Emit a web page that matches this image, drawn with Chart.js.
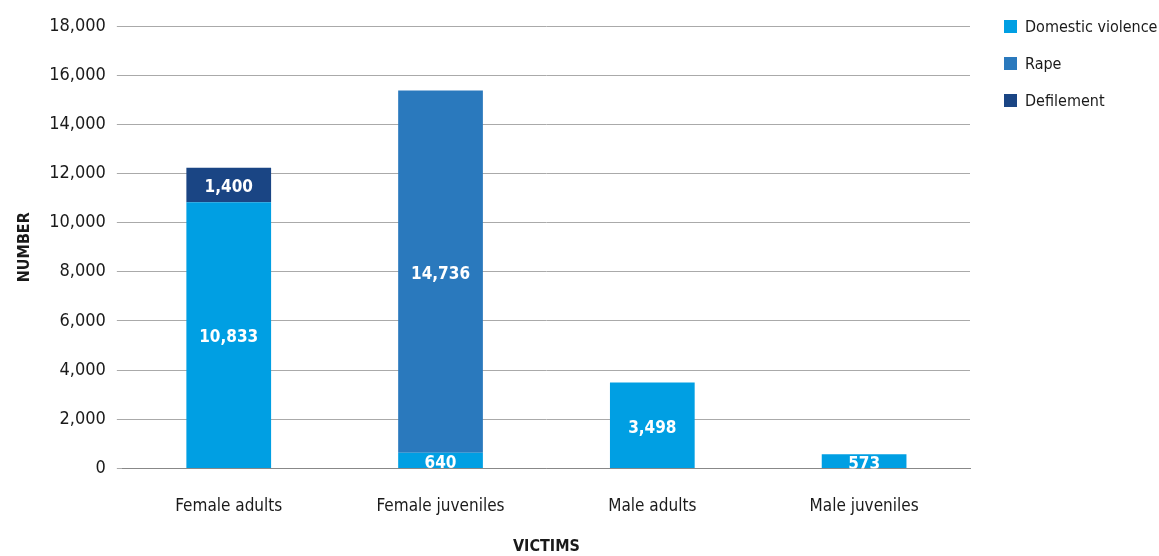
<!DOCTYPE html>
<html>
<head>
<meta charset="utf-8">
<script src="https://cdn.jsdelivr.net/npm/chart.js@4"></script>
<style>
  body { margin: 0; background: #fff; }
  #wrap { position: relative; width: 1159px; height: 556px; }
  #legend { position: absolute; left: 1004px; top: 17px; font-family: "Liberation Sans Narrow", "DejaVu Sans Condensed", sans-serif; font-size: 16px; color: #1a1a1a; }
  #legend div { height: 20px; line-height: 20px; margin-bottom: 17px; white-space: nowrap; }
  #legend span { display: inline-block; width: 13px; height: 13px; margin-right: 8px; vertical-align: -1px; }
</style>
</head>
<body>
<div id="wrap">
  <canvas id="chart" width="1159" height="556"></canvas>
  <div id="legend"></div>
</div>
<script>
const categories = ['Female adults', 'Female juveniles', 'Male adults', 'Male juveniles'];
const domesticViolence = [10833, 640, 3498, 573];
const rape = [0, 14736, 0, 0];
const defilement = [1400, 0, 0, 0];
const seriesNames = ['Domestic violence', 'Rape', 'Defilement'];
const seriesColors = ['#009fe3', '#2a79bd', '#1a4584'];

const fontFamily = '"Liberation Sans Narrow", "DejaVu Sans Condensed", sans-serif';

// legend in HTML on the right
const legend = document.getElementById('legend');
seriesNames.forEach((name, i) => {
    const row = document.createElement('div');
    row.innerHTML = `<span style="background:${seriesColors[i]}"></span>${name}`;
    legend.appendChild(row);
});

// white value labels centred in each segment
const valueLabels = {
    id: 'valueLabels',
    afterDatasetsDraw(chart) {
        const ctx = chart.ctx;
        const area = chart.chartArea;
        ctx.save();
        ctx.beginPath();
        ctx.rect(area.left, area.top, area.right - area.left, area.bottom - area.top);
        ctx.clip();
        ctx.font = 'bold 17px ' + fontFamily;
        ctx.fillStyle = '#ffffff';
        ctx.textAlign = 'center';
        ctx.textBaseline = 'middle';
        chart.data.datasets.forEach((ds, di) => {
            chart.getDatasetMeta(di).data.forEach((bar, i) => {
                const v = ds.data[i];
                if (!v) return;
                const y = (bar.y + bar.base) / 2;
                ctx.fillText(v.toLocaleString('en-US'), bar.x, y + 3);
            });
        });
        ctx.restore();
    }
};

new Chart(document.getElementById('chart'), {
    type: 'bar',
    data: {
        labels: categories,
        datasets: [
            { label: seriesNames[0], data: domesticViolence, backgroundColor: seriesColors[0] },
            { label: seriesNames[1], data: rape, backgroundColor: seriesColors[1] },
            { label: seriesNames[2], data: defilement, backgroundColor: seriesColors[2] }
        ]
    },
    options: {
        responsive: false,
        animation: false,
        layout: { padding: { top: 26, right: 189, bottom: 0, left: 11 } },
        datasets: { bar: { categoryPercentage: 1, barPercentage: 0.4 } },
        plugins: { legend: { display: false }, tooltip: { enabled: false } },
        scales: {
            x: {
                stacked: true,
                grid: { display: false },
                border: { display: true, color: '#888888' },
                ticks: { color: '#1a1a1a', font: { family: fontFamily, size: 17 }, padding: 20 },
                title: { display: true, text: 'VICTIMS', color: '#1a1a1a', font: { family: fontFamily, size: 16, weight: 'bold' }, padding: { top: 0, bottom: 0 } }
            },
            y: {
                stacked: true,
                min: 0,
                max: 18000,
                ticks: { stepSize: 2000, color: '#1a1a1a', font: { family: fontFamily, size: 18 }, padding: 11,
                    callback: v => v.toLocaleString('en-US') },
                grid: { color: '#aaaaaa', lineWidth: 1, tickLength: 6, drawTicks: true },
                border: { display: false },
                title: { display: true, text: 'NUMBER', color: '#1a1a1a', font: { family: fontFamily, size: 16, weight: 'bold' }, padding: { top: 4, bottom: 4 } }
            }
        }
    },
    plugins: [valueLabels]
});
</script>
</body>
</html>
